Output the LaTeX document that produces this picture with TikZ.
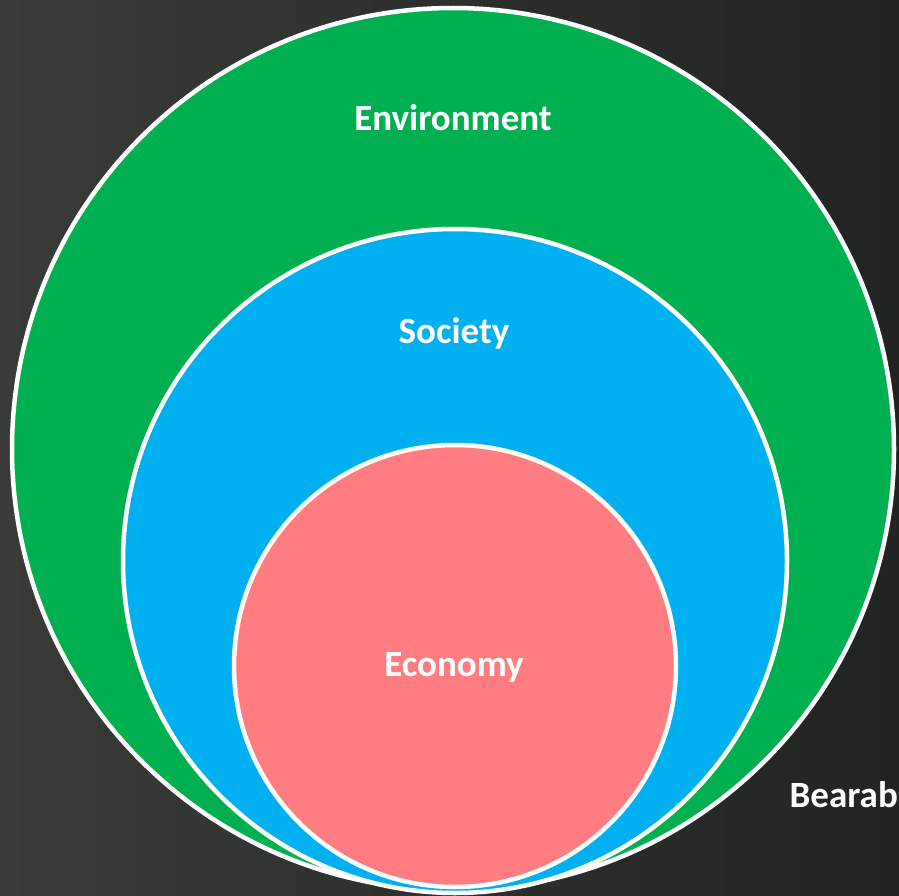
\documentclass[tikz,border=0pt]{standalone}
\usepackage{fontspec}
\setmainfont{Carlito}
\definecolor{envgreen}{HTML}{00B050}
\definecolor{socblue}{HTML}{00B0F0}
\definecolor{ecored}{HTML}{FF7C80}
\definecolor{boardleft}{HTML}{383B36}
\definecolor{boardright}{HTML}{222423}
\tikzset{
	ring/.style={draw=white, line width=4.5pt},
	ringlabel/.style={text=white, font=\fontsize{37}{42}\selectfont\bfseries}
}
\begin{document}
\begin{tikzpicture}[x=1pt, y=-1pt]
	\clip (0, 0) rectangle (899, 896);
	\shade[left color=boardleft, right color=boardright] (0, 0) rectangle (899, 896);
	% nested circles, all touching at the bottom
	\draw[ring, fill=envgreen] (453, 449) circle (441);
	\draw[ring, fill=socblue] (455, 561) circle (332);
	\draw[ring, fill=ecored] (455, 666) circle (221);
	\node[ringlabel] (env) at (453, 118) {Environment};
	\node[ringlabel] (soc) at (454, 333) {Society};
	\node[ringlabel] (eco) at (454, 667) {Economy};
	\node[ringlabel, anchor=east, inner sep=0pt] (bear) at (898, 795) {Bearab};
\end{tikzpicture}
\end{document}
